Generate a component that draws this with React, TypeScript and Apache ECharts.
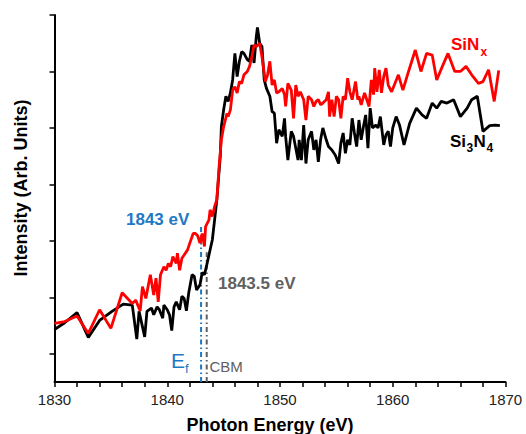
import React, { useEffect, useRef } from "react";
import * as echarts from "echarts";

const si3n4Energy = [1830.0,1830.9,1832.0,1833.0,1834.0,1835.1,1836.1,1836.9,1837.3,1837.5,
1838.0,1838.2,1838.6,1838.8,1839.1,1839.3,1839.6,1839.7,1840.0,1840.2,
1840.4,1840.6,1840.8,1841.1,1841.3,1841.5,1841.7,1841.9,1842.2,1842.4,
1842.6,1842.9,1843.1,1843.3,1843.5,1843.7,1844.0,1844.2,1844.4,1844.7,
1844.8,1845.0,1845.2,1845.4,1845.6,1845.8,1846.0,1846.2,1846.4,1846.6,
1846.8,1847.1,1847.3,1847.5,1847.7,1847.9,1848.0,1848.2,1848.4,1848.6,
1848.8,1849.1,1849.3,1849.5,1849.7,1849.9,1850.2,1850.4,1850.5,1850.7,
1851.0,1851.2,1851.4,1851.6,1851.7,1851.9,1852.1,1852.3,1852.5,1852.8,
1853.0,1853.2,1853.4,1853.6,1853.8,1854.1,1854.3,1854.6,1854.9,1855.2,
1855.4,1855.6,1855.8,1856.0,1856.2,1856.4,1856.6,1856.8,1857.0,1857.2,
1857.4,1857.6,1857.8,1858.0,1858.2,1858.5,1858.7,1858.9,1859.2,1859.4,
1859.6,1859.8,1860.0,1860.3,1860.6,1861.0,1861.5,1862.1,1862.6,1863.0,
1863.5,1863.9,1864.3,1864.8,1865.4,1866.0,1866.6,1867.0,1867.5,1868.0,
1868.6,1869.1,1869.5];

const si3n4Intensity = [0.93,1.05,1.23,0.79,1.09,1.25,1.38,1.36,0.76,1.25,
0.80,1.25,1.31,1.19,1.33,1.28,1.13,1.36,1.28,1.19,
0.91,1.33,1.42,1.28,1.52,1.48,1.26,1.57,1.90,1.87,
1.63,1.72,1.94,1.90,2.07,2.25,2.52,2.87,3.23,3.99,
4.52,4.82,5.06,4.97,5.12,5.35,5.82,5.41,5.68,5.85,
5.82,5.71,5.68,5.97,5.65,6.12,6.28,6.00,5.94,5.35,
5.20,5.06,4.79,4.76,4.23,4.47,4.35,4.67,4.35,3.93,
4.44,4.35,4.14,3.93,4.29,3.93,4.55,3.87,4.29,4.44,
4.11,4.29,3.90,4.29,4.50,4.29,4.17,4.11,4.02,3.87,
4.23,4.41,4.05,4.29,4.20,4.67,4.41,4.17,4.64,4.29,
4.52,4.73,4.14,4.85,4.50,4.55,4.50,4.70,4.20,4.38,
4.44,4.17,4.50,4.70,4.55,4.20,4.58,4.85,4.73,4.67,
4.94,4.85,4.97,4.94,5.00,4.70,4.85,5.00,5.06,4.44,
4.54,4.55,4.54];

const sinxEnergy = [1830.0,1830.9,1832.0,1833.0,1834.0,1835.0,1836.0,1836.9,1837.2,1837.6,
1837.8,1838.1,1838.3,1838.5,1838.8,1839.0,1839.2,1839.4,1839.7,1839.9,
1840.1,1840.3,1840.5,1840.8,1840.9,1841.1,1841.3,1841.6,1841.8,1842.0,
1842.3,1842.5,1842.7,1842.9,1843.1,1843.3,1843.4,1843.7,1843.8,1844.0,
1844.2,1844.4,1844.6,1844.8,1845.0,1845.3,1845.4,1845.6,1845.8,1846.0,
1846.2,1846.4,1846.6,1846.8,1847.1,1847.3,1847.5,1847.7,1847.9,1848.2,
1848.4,1848.7,1848.9,1849.1,1849.3,1849.5,1849.7,1849.9,1850.2,1850.4,
1850.5,1850.7,1851.0,1851.2,1851.4,1851.6,1851.8,1852.1,1852.3,1852.5,
1852.8,1853.0,1853.2,1853.4,1853.6,1853.8,1854.1,1854.3,1854.4,1854.6,
1854.8,1855.0,1855.2,1855.4,1855.6,1855.8,1856.0,1856.2,1856.4,1856.7,
1856.9,1857.0,1857.2,1857.5,1857.7,1857.9,1858.1,1858.3,1858.4,1858.6,
1858.8,1859.0,1859.2,1859.4,1859.6,1859.9,1860.2,1860.5,1860.9,1861.4,
1862.0,1862.5,1863.0,1863.5,1863.9,1864.4,1864.9,1865.5,1866.0,1866.5,
1867.0,1867.6,1868.0,1868.5,1869.0,1869.4];

const sinxIntensity = [1.04,1.07,1.17,0.86,1.28,0.95,1.58,1.39,1.45,1.26,
1.69,1.48,1.69,1.90,1.54,1.84,1.42,1.90,2.04,1.98,
2.10,2.04,2.22,2.10,2.28,1.98,2.19,2.28,2.34,2.46,
2.63,2.63,2.59,2.46,2.63,2.40,2.75,2.87,3.05,2.93,
3.11,3.23,3.82,4.29,4.52,4.76,4.70,4.82,5.17,5.23,
5.12,5.32,5.29,5.44,5.50,5.59,5.76,5.97,5.94,6.00,
5.76,5.32,5.44,5.68,5.26,5.35,5.12,5.14,5.20,5.09,
4.88,5.29,5.17,4.67,5.26,5.06,5.14,5.00,4.64,5.06,
5.00,4.88,4.97,5.00,4.91,4.94,5.00,5.14,4.70,5.00,
4.70,5.06,5.00,4.67,5.06,5.00,5.38,5.14,5.00,5.32,
5.00,5.06,4.91,5.12,5.00,4.88,5.35,5.09,5.56,5.14,
5.53,5.12,5.41,5.56,5.26,5.14,5.29,5.44,5.17,5.50,
5.88,5.50,5.82,5.79,5.35,5.59,5.82,5.50,5.50,5.59,
5.44,5.29,5.32,5.53,4.97,5.52];

// Fermi level and conduction-band minimum markers: [energy, top of marker line]
const efMarker = [1843, 2.8];
const cbmMarker = [1843.5, 2.3];

const yTickValues = [0.5, 1.5, 2.5, 3.5, 4.5, 5.5, 6.5];
const xLabelValues = [1830, 1840, 1850, 1860, 1870];

const FONT = "'Liberation Sans', Arial, sans-serif";
const BLUE = "#1f78c4";
const GRAY = "#606060";

export default function App() {
  const ref = useRef<HTMLDivElement>(null);
  useEffect(() => {
    document.body.style.margin = "0";
    if (!ref.current) return;
    const chart = echarts.init(ref.current, null, { renderer: "svg" });
    const zip = (xs: number[], ys: number[]) => xs.map((x, i) => [x, ys[i]]);
    chart.setOption({
      animation: false,
      backgroundColor: "#ffffff",
      grid: { left: 54.5, right: 20.5, top: 15, bottom: 52, outerBoundsMode: "none" },
      xAxis: {
        type: "value",
        min: 1830,
        max: 1870,
        interval: 2,
        axisLine: { show: true, lineStyle: { color: "#000", width: 2 } },
        axisTick: { show: true, length: 5, inside: false, lineStyle: { color: "#000", width: 1.5 } },
        axisLabel: {
          formatter: (v: number) => (xLabelValues.indexOf(v) >= 0 ? String(v) : ""),
          fontSize: 15,
          color: "#222",
          margin: 10,
          fontFamily: FONT,
        },
        splitLine: { show: false },
      },
      yAxis: {
        type: "value",
        min: 0,
        max: 6.5,
        axisLine: { show: true, lineStyle: { color: "#000", width: 2 } },
        axisTick: { show: true, length: 5, inside: false, customValues: yTickValues, lineStyle: { color: "#000", width: 1.5 } },
        axisLabel: { show: false },
        splitLine: { show: false },
      },
      series: [
        {
          type: "line",
          data: [[efMarker[0], 0], [efMarker[0], efMarker[1]]],
          symbol: "none",
          lineStyle: { color: BLUE, width: 2, type: [5, 3, 1.5, 3] },
          z: 1,
        },
        {
          type: "line",
          data: [[cbmMarker[0], 0], [cbmMarker[0], cbmMarker[1]]],
          symbol: "none",
          lineStyle: { color: GRAY, width: 2, type: [5, 3, 1.5, 3] },
          z: 1,
        },
        {
          name: "Si3N4",
          type: "line",
          data: zip(si3n4Energy, si3n4Intensity),
          symbol: "none",
          lineStyle: { color: "#000", width: 2.8 },
          z: 2,
        },
        {
          name: "SiNx",
          type: "line",
          data: zip(sinxEnergy, sinxIntensity),
          symbol: "none",
          lineStyle: { color: "#ff0000", width: 2.8 },
          z: 3,
        },
      ],
      graphic: [
        { type: "text", x: 270, y: 425, style: { text: "Photon Energy (eV)", font: `bold 18px ${FONT}`, fill: "#000", align: "center", verticalAlign: "middle" } },
        { type: "text", x: 21, y: 188, rotation: Math.PI / 2, style: { text: "Intensity (Arb. Units)", font: `bold 18px ${FONT}`, fill: "#000", align: "center", verticalAlign: "middle" } },
        { type: "text", x: 451, y: 44.5, style: { text: "SiN", font: `bold 17px ${FONT}`, fill: "#ff0000", align: "left", verticalAlign: "middle" } },
        { type: "text", x: 480.5, y: 52, style: { text: "x", font: `bold 12px ${FONT}`, fill: "#ff0000", align: "left", verticalAlign: "middle" } },
        { type: "text", x: 450, y: 141, style: { text: "Si", font: `bold 17px ${FONT}`, fill: "#000", align: "left", verticalAlign: "middle" } },
        { type: "text", x: 466.5, y: 148, style: { text: "3", font: `bold 12px ${FONT}`, fill: "#000", align: "left", verticalAlign: "middle" } },
        { type: "text", x: 473.5, y: 141, style: { text: "N", font: `bold 17px ${FONT}`, fill: "#000", align: "left", verticalAlign: "middle" } },
        { type: "text", x: 486.5, y: 148, style: { text: "4", font: `bold 12px ${FONT}`, fill: "#000", align: "left", verticalAlign: "middle" } },
        { type: "text", x: 126, y: 219, style: { text: "1843 eV", font: `bold 17px ${FONT}`, fill: BLUE, align: "left", verticalAlign: "middle" } },
        { type: "text", x: 218, y: 283, style: { text: "1843.5 eV", font: `bold 17px ${FONT}`, fill: GRAY, align: "left", verticalAlign: "middle" } },
        { type: "text", x: 171, y: 360.5, style: { text: "E", font: `21px ${FONT}`, fill: BLUE, align: "left", verticalAlign: "middle" } },
        { type: "text", x: 185, y: 368, style: { text: "f", font: `13px ${FONT}`, fill: BLUE, align: "left", verticalAlign: "middle" } },
        { type: "text", x: 209.5, y: 366, style: { text: "CBM", font: `15px ${FONT}`, fill: GRAY, align: "left", verticalAlign: "middle" } },
      ],
    });
    return () => chart.dispose();
  }, []);
  return <div ref={ref} style={{ width: 526, height: 434 }} />;
}
